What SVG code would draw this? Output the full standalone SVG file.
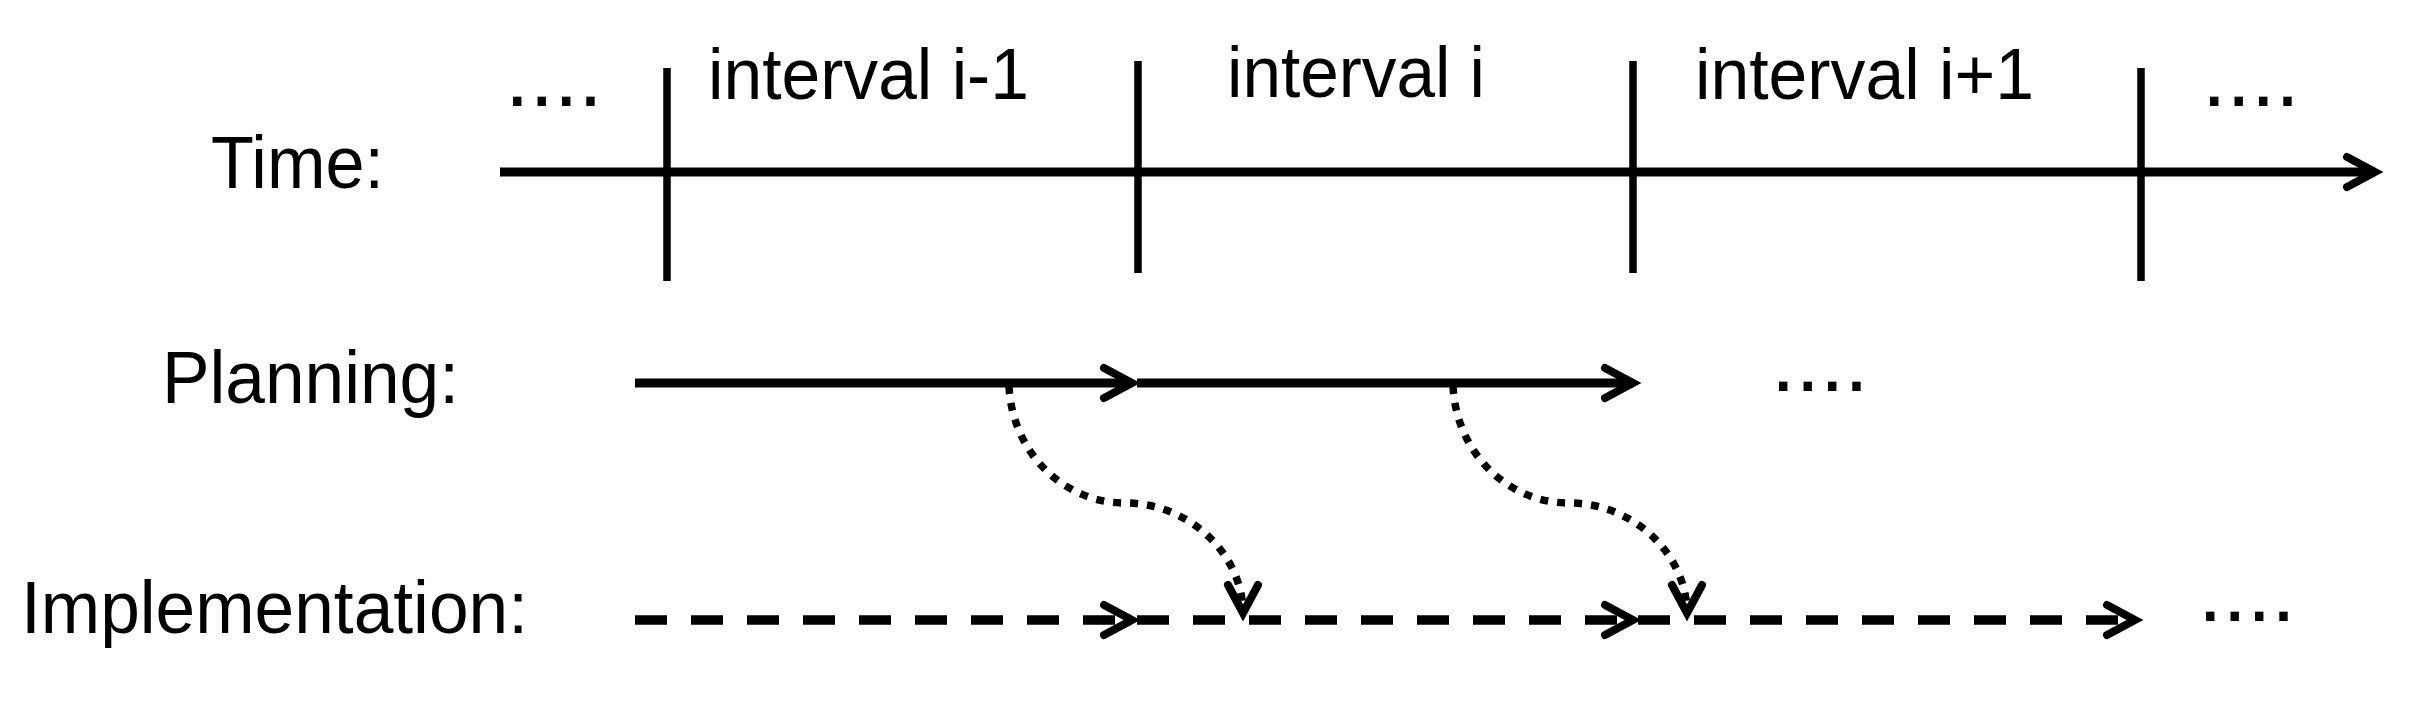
<svg xmlns="http://www.w3.org/2000/svg" width="2416" height="701" viewBox="0 0 2416 701">
<style>
text{font-family:"Liberation Sans",Arial,Helvetica,sans-serif;fill:#000}
.lbl{font-size:74px}
.iv{font-size:73px}
.dots{font-size:88px}
.solid{fill:none;stroke:#000;stroke-width:9}
.tick{fill:none;stroke:#000;stroke-width:7.5}
.dash{fill:none;stroke:#000;stroke-width:9.5;stroke-dasharray:32 24}
.dot{fill:none;stroke:#000;stroke-width:7.5;stroke-dasharray:8 9}
</style>
<defs>
<marker id="arr" markerUnits="userSpaceOnUse" viewBox="-40 -25 50 50" markerWidth="50" markerHeight="50" refX="0" refY="0" orient="auto" overflow="visible">
<path d="M-28,-15 L0,0 L-28,15" fill="none" stroke="#000" stroke-width="8" stroke-dasharray="none" stroke-linecap="round" stroke-linejoin="miter"/>
</marker>
</defs>
<rect width="2416" height="701" fill="#fff"/>
<g id="labels">
<text class="lbl" x="211" y="188" textLength="173" lengthAdjust="spacingAndGlyphs">Time:</text>
<text class="lbl" x="162" y="403" textLength="297" lengthAdjust="spacingAndGlyphs">Planning:</text>
<text class="lbl" x="21" y="633" textLength="507" lengthAdjust="spacingAndGlyphs">Implementation:</text>
</g>
<g id="intervals">
<text class="iv" x="708" y="99" textLength="321" lengthAdjust="spacingAndGlyphs">interval i-1</text>
<text class="iv" x="1227" y="97" textLength="258" lengthAdjust="spacingAndGlyphs">interval i</text>
<text class="iv" x="1695" y="99" textLength="339" lengthAdjust="spacingAndGlyphs">interval i+1</text>
<text class="dots" x="505" y="106">....</text>
<text class="dots" x="2202" y="106">....</text>
<text class="dots" x="1771" y="391">....</text>
<text class="dots" x="2198" y="621">....</text>
</g>
<g id="timeline">
<line class="tick" x1="667" y1="68" x2="667" y2="281"/>
<line class="tick" x1="1138" y1="61" x2="1138" y2="273"/>
<line class="tick" x1="1633" y1="61" x2="1633" y2="273"/>
<line class="tick" x1="2141" y1="68" x2="2141" y2="281"/>
</g>
<g id="connectors">
<line class="solid" x1="500" y1="172" x2="2375" y2="172" marker-end="url(#arr)"/>
<line class="solid" x1="635" y1="383" x2="1132" y2="383" marker-end="url(#arr)"/>
<line class="solid" x1="1137" y1="383" x2="1633" y2="383" marker-end="url(#arr)"/>
<line class="dash" x1="635" y1="620" x2="1132" y2="620" marker-end="url(#arr)"/>
<line class="dash" x1="1137" y1="620" x2="1633" y2="620" marker-end="url(#arr)"/>
<line class="dash" x1="1638" y1="620" x2="2135" y2="620" marker-end="url(#arr)"/>
<path class="dot" d="M1009,386 C1012,452 1063,503 1125,503 C1190,503 1243,555 1243,613" marker-end="url(#arr)"/>
<path class="dot" d="M1453,386 C1456,452 1507,503 1569,503 C1634,503 1687,555 1687,613" marker-end="url(#arr)"/>
</g>
</svg>
